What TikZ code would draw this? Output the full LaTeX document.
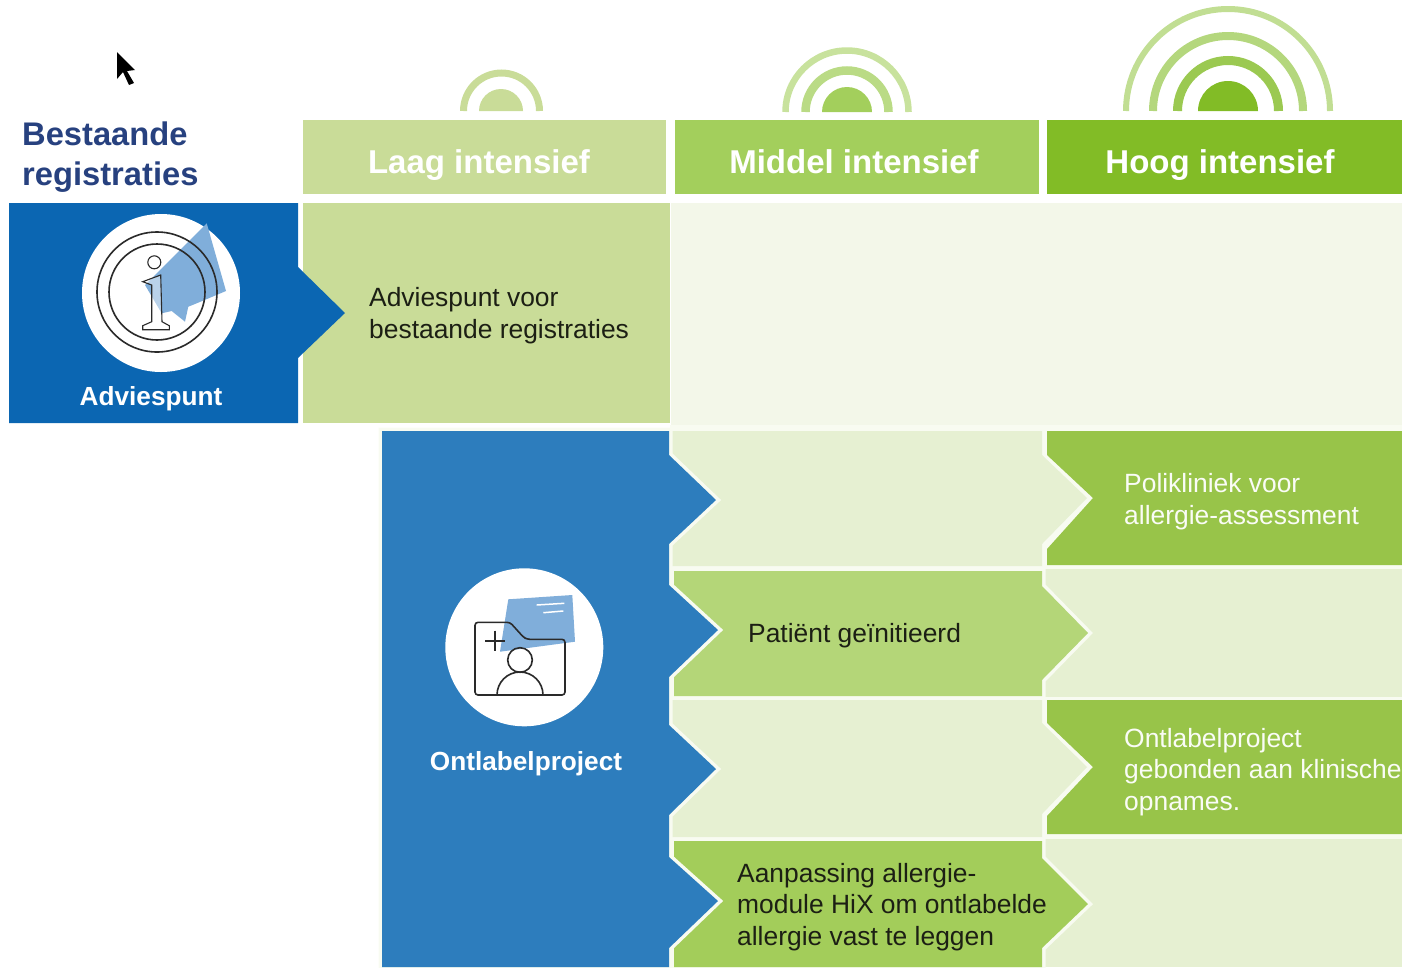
\documentclass[tikz,border=0pt]{standalone}
\usepackage{fontspec}
\setmainfont{Liberation Sans}
\usetikzlibrary{positioning}
\definecolor{titelblauw}{HTML}{27417F}
\definecolor{advblauw}{HTML}{0B66B2}
\definecolor{ontblauw}{HTML}{2D7DBD}
\definecolor{vlakblauw}{HTML}{80AEDA}
\definecolor{laaggroen}{HTML}{C9DC98}
\definecolor{middelgroen}{HTML}{A3CF5C}
\definecolor{hooggroen}{HTML}{82BC26}
\definecolor{celgroen}{HTML}{98C449}
\definecolor{patgroen}{HTML}{B4D678}
\definecolor{aangroen}{HTML}{A3CD5A}
\definecolor{bleek}{HTML}{F3F7E9}
\definecolor{bleekgroen}{HTML}{E6F0D2}
\definecolor{spleet}{HTML}{F8FBF1}
\definecolor{tekst}{HTML}{1C1F14}
\definecolor{lijn}{HTML}{2A2A2A}
\tikzset{halo/.style={preaction={draw=spleet,line width=7pt,line join=miter}}}
\tikzset{kop/.style={font=\fontsize{33}{36}\selectfont\bfseries,text=white,inner sep=0pt,anchor=base}}
\tikzset{celtekst/.style={font=\fontsize{26.4}{31.7}\selectfont,text=tekst,align=left,anchor=west,inner sep=0pt}}
\tikzset{celwit/.style={celtekst,text=white!95!celgroen}}
\tikzset{blauwtekst/.style={font=\fontsize{26.2}{30}\selectfont\bfseries,text=white,inner sep=0pt}}
\tikzset{icoon/.style={draw=lijn,line width=1.6pt}}

\begin{document}
\begin{tikzpicture}[x=1pt,y=-1pt]
    \useasboundingbox (0,0) rectangle (1402,967);
    % muiswijzer
    \fill[black] (117,52) -- (135,70) -- (127,71) -- (134,83) -- (129,85) -- (123,72) -- (117,79) -- cycle;

    % bogen boven de kolommen
    \fill[laaggroen] (479,111) arc (180:360:22) -- cycle;
    \draw[laaggroen,line width=7pt] (463.5,111) arc (180:360:38);
    \fill[middelgroen] (822,112) arc (180:360:25) -- cycle;
    \draw[middelgroen!75!white,line width=8.5pt] (805.5,112) arc (180:360:41.5);
    \draw[middelgroen!60!white,line width=6.5pt] (785.5,112) arc (180:360:61.5);
    \fill[hooggroen] (1198,111) arc (180:360:30) -- cycle;
    \draw[hooggroen!80!white,line width=9pt] (1177.5,111) arc (180:360:50.5);
    \draw[hooggroen!60!white,line width=8pt] (1153,111) arc (180:360:75);
    \draw[hooggroen!50!white,line width=6pt] (1126,111) arc (180:360:102);

    % kolomkoppen
    \fill[laaggroen] (303,120) rectangle (666,194);
    \fill[middelgroen] (675,120) rectangle (1039,194);
    \fill[hooggroen] (1047,120) rectangle (1402,194);
    \node[kop] (laag) at (479,173) {Laag intensief};
    \node[kop] (middel) at (854,173) {Middel intensief};
    \node[kop] (hoog) at (1220,173) {Hoog intensief};
    \node[font=\fontsize{32.7}{39.5}\selectfont\bfseries,text=titelblauw,align=left,anchor=west,inner sep=0pt] (titel) at (22,157) {Bestaande\\registraties};

    % rij adviespunt
    \fill[bleek] (671,203) rectangle (1402,425);
    \fill[laaggroen] (303,203) rectangle (670,423);
    \fill[advblauw] (9,203) -- (298,203) -- (298,267) -- (345,313) -- (298,358) -- (298,423) -- (9,423) -- cycle;
    \node[celtekst] (advtekst) at (369,316) {Adviespunt voor\\bestaande registraties};

    % rijen ontlabelproject
    \fill[spleet] (670,425) rectangle (1402,967);
    \fill[bleekgroen] (670,431) -- (1042,431) -- (1042,455) -- (1087,498) -- (1042,544) -- (1042,566) -- (670,566) -- cycle;
    \fill[bleekgroen] (670,700) -- (1042,700) -- (1042,723) -- (1087,767) -- (1042,814) -- (1042,837) -- (670,837) -- cycle;
    \fill[bleekgroen] (1043,569) rectangle (1402,697);
    \fill[bleekgroen] (1043,839) rectangle (1402,967);
    \fill[celgroen] (1047,431) -- (1402,431) -- (1402,565) -- (1047,565) -- (1047,549) -- (1093,498) -- (1047,455) -- cycle;
    \fill[celgroen] (1047,700) -- (1402,700) -- (1402,834) -- (1047,834) -- (1047,816) -- (1093,767) -- (1047,723) -- cycle;
    \fill[patgroen,halo] (674,571) -- (1042,571) -- (1042,586) -- (1088,633) -- (1042,680) -- (1042,696) -- (674,696) -- cycle;
    \fill[aangroen,halo] (674,841) -- (1042,841) -- (1042,858) -- (1088,904) -- (1042,948) -- (1042,967) -- (674,967) -- cycle;
    \fill[ontblauw,halo] (382,431) -- (669,431) -- (669,455) -- (716,500) -- (669,544) -- (669,585) -- (718,630) -- (669,677) -- (669,725) -- (716,769) -- (669,815) -- (669,857) -- (718,901) -- (669,948) -- (669,967) -- (382,967) -- cycle;

    \node[celwit] (polikliniek) at (1124,502) {Polikliniek voor\\allergie-assessment};
    \node[celtekst] (patient) at (748,636) {Patiënt geïnitieerd};
    \node[celwit] (gebonden) at (1124,772) {Ontlabelproject\\gebonden aan klinische\\opnames.};
    \node[celtekst] (aanpassing) at (737,907) {Aanpassing allergie-\\module HiX om ontlabelde\\allergie vast te leggen};
    \node[blauwtekst] (adviespunt) at (151,399) {Adviespunt};
    \node[blauwtekst] (ontlabel) at (526,764) {Ontlabelproject};

    % icoon adviespunt
    \fill[white] (161,293) circle (79);
    \fill[vlakblauw] (206.7,223.3) -- (226,291) -- (196.7,303.3) -- (188.3,306.7) -- (185,321.7) -- (171.7,311) -- (161.7,313.3) -- (145,285) -- cycle;
    \draw[icoon] (157,292) circle (60);
    \draw[icoon] (157,292) circle (48);
    \draw[icoon,line width=1.1pt,fill=white] (154.3,262.3) circle (6.5);
    \draw[icoon,line width=1.1pt,fill=white,fill opacity=.45] (142.7,281.7) -- (160.7,275) -- (162,321.7) -- (169.3,325.7) -- (169.3,329.7) -- (142.7,329.7) -- (142.7,325.7) -- (151.7,321.7) -- (151.7,285) -- cycle;

    % icoon ontlabelproject
    \fill[white] (524.3,647.3) circle (79);
    \fill[vlakblauw] (508.3,599.3) -- (572.3,595) -- (575,641.7) -- (500,651.7) -- cycle;
    \draw[white,line width=1.5pt] (536.7,605) -- (564.3,603.3);
    \draw[white,line width=1.5pt] (543.3,612.7) -- (563.3,611);
    \draw[icoon,rounded corners=3pt] (475,622.3) -- (510,622.3) -- (523.3,637) -- (527,639.3) -- (565,639.3) -- (565,695) -- (475,695) -- cycle;
    \draw[icoon] (485,641) -- (505,641);
    \draw[icoon] (495,630.7) -- (495,650.7);
    \draw[icoon] (520,660) circle (12.3);
    \draw[icoon] (497,695) arc (180:360:23);
\end{tikzpicture}
\end{document}
